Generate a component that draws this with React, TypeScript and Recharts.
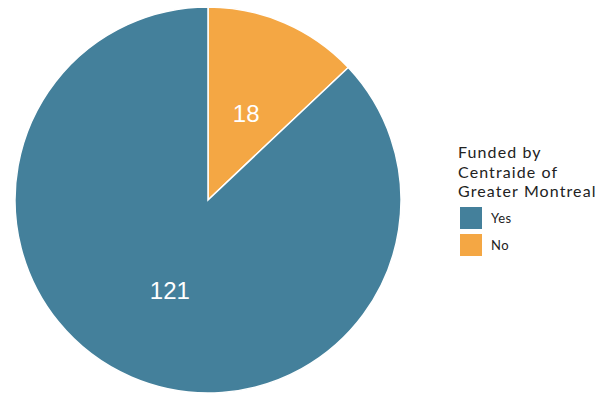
import { PieChart, Pie, Cell } from "recharts";

const categories = ["No", "Yes"];
const counts = [18, 121];
const COLORS = ["#F4A744", "#44809B"];
const legendOrder = ["Yes", "No"];
const legendTitle = ["Funded by", "Centraide of", "Greater Montreal"];

const data = categories.map((name, i) => ({ name, value: counts[i] }));
const RADIAN = Math.PI / 180;

const renderLabel = ({ cx, cy, midAngle, outerRadius, value }: any) => {
  const r = outerRadius * 0.5;
  const x = cx + r * Math.cos(-midAngle * RADIAN);
  const y = cy + r * Math.sin(-midAngle * RADIAN) + 2;
  return (
    <text
      x={x}
      y={y}
      fill="#ffffff"
      textAnchor="middle"
      dominantBaseline="central"
      fontFamily="Liberation Sans, Arial, sans-serif"
      fontSize={24}
    >
      {value}
    </text>
  );
};

export default function App() {
  return (
    <div
      style={{
        position: "absolute",
        top: 0,
        left: 0,
        width: 613,
        height: 402,
        background: "#ffffff",
      }}
    >
      <PieChart
        width={613}
        height={402}
        margin={{ top: 0, right: 0, bottom: 0, left: 0 }}
      >
        <Pie
          data={data}
          dataKey="value"
          nameKey="name"
          cx={208}
          cy={200}
          outerRadius={193}
          startAngle={90}
          endAngle={-270}
          stroke="#ffffff"
          strokeWidth={1.5}
          label={renderLabel}
          labelLine={false}
          isAnimationActive={false}
        >
          {data.map((d, i) => (
            <Cell key={d.name} fill={COLORS[i]} />
          ))}
        </Pie>
      </PieChart>
      <div
        style={{
          position: "absolute",
          left: 458,
          top: 142,
          fontFamily: "Lato, sans-serif",
          color: "#222",
        }}
      >
        {legendTitle.map((t) => (
          <div
            key={t}
            style={{ fontSize: 16, lineHeight: "19.5px", letterSpacing: 1.1 }}
          >
            {t}
          </div>
        ))}
        <div style={{ marginTop: 4 }}>
          {legendOrder.map((name) => (
            <div
              key={name}
              style={{ display: "flex", alignItems: "center", height: 27 }}
            >
              <div
                style={{
                  width: 22,
                  height: 22,
                  marginLeft: 2,
                  background: COLORS[categories.indexOf(name)],
                }}
              />
              <span style={{ marginLeft: 9, fontSize: 13, letterSpacing: 0.5 }}>
                {name}
              </span>
            </div>
          ))}
        </div>
      </div>
    </div>
  );
}
